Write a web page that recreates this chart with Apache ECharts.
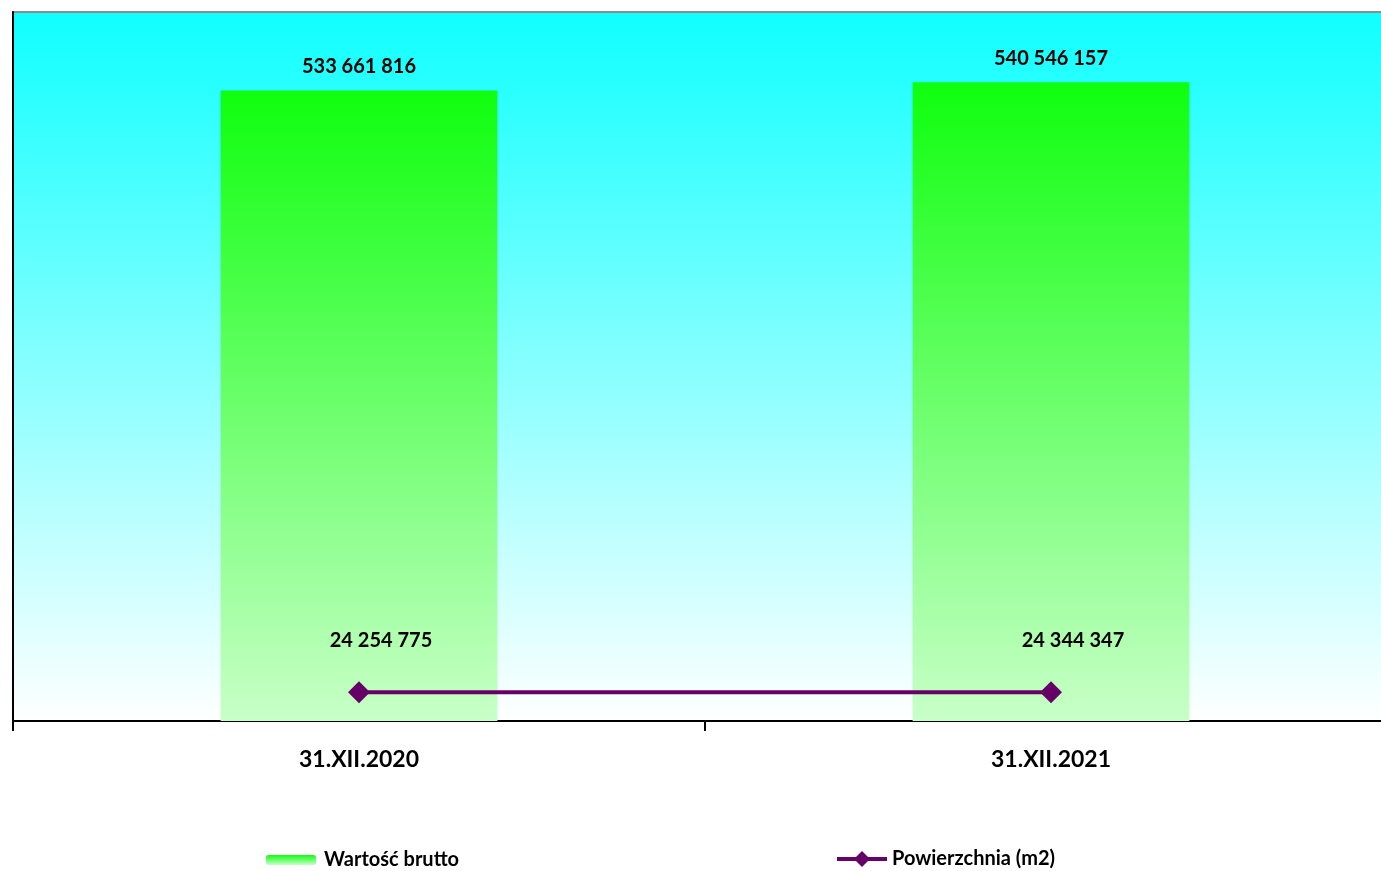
<!DOCTYPE html>
<html>
<head>
<meta charset="utf-8">
<script src="https://cdn.jsdelivr.net/npm/echarts@6/dist/echarts.min.js"></script>
<style>
html,body{margin:0;padding:0;background:#fff;overflow:hidden;width:1381px;height:871px;}
#c{width:1397px;height:871px;}
</style>
</head>
<body>
<div id="c"></div>
<script>
const categories = ['31.XII.2020', '31.XII.2021'];
const wartoscBrutto = [533661816, 540546157];
const powierzchnia = [24254775, 24344347];
const seriesNames = ['Wartość brutto', 'Powierzchnia (m2)'];

function fmt(v) {
  return String(v).replace(/\B(?=(\d{3})+(?!\d))/g, ' ');
}

const FONT = 'Lato, "Open Sans", sans-serif';
const chart = echarts.init(document.getElementById('c'), null, {renderer: 'canvas'});
const barGrad = new echarts.graphic.LinearGradient(0, 0, 0, 1, [
  {offset: 0, color: '#0fff0f'},
  {offset: 1, color: '#c8ffc8'}
]);
chart.setOption({
  animation: false,
  backgroundColor: '#ffffff',
  grid: {
    left: 13, top: 12, right: 0, bottom: 150,
    show: true,
    borderWidth: 2,
    borderColor: '#8c8c8c',
    backgroundColor: new echarts.graphic.LinearGradient(0, 0, 0, 1, [
      {offset: 0, color: '#0fffff'},
      {offset: 1, color: '#ffffff'}
    ])
  },
  legend: [
    {
      data: [seriesNames[0]], left: 266, top: 850, padding: 0,
      itemWidth: 50, itemHeight: 10, itemGap: 8,
      textStyle: {fontFamily: FONT, fontWeight: 'bold', fontSize: 20, color: '#000', padding: [0, 0, 0, 3]}
    },
    {
      data: [seriesNames[1]], left: 835, top: 849, padding: 0,
      itemWidth: 50, itemHeight: 20, itemGap: 7,
      lineStyle: {width: 4},
      textStyle: {fontFamily: FONT, fontWeight: 'bold', fontSize: 20, color: '#000'}
    }
  ],
  xAxis: {
    type: 'category',
    data: categories,
    boundaryGap: true,
    axisLine: {show: true, lineStyle: {color: '#000', width: 2}},
    axisTick: {show: true, length: 10, lineStyle: {color: '#000', width: 2}},
    axisLabel: {
      margin: 27, fontFamily: FONT, fontWeight: 'bold', fontSize: 23, color: '#000'
    },
    splitLine: {show: false}
  },
  yAxis: {
    type: 'value',
    min: 0, max: 600000000,
    axisLine: {show: true, lineStyle: {color: '#000', width: 2}},
    axisTick: {show: false},
    axisLabel: {show: false},
    splitLine: {show: false}
  },
  series: [
    {
      name: seriesNames[0],
      type: 'bar',
      data: wartoscBrutto,
      barWidth: '40%',
      itemStyle: {color: barGrad},
      label: {
        show: true, position: 'top', distance: 14,
        formatter: p => fmt(p.value),
        fontFamily: FONT, fontWeight: 'bold', fontSize: 20, color: '#000'
      },
      z: 2
    },
    {
      name: seriesNames[1],
      type: 'line',
      data: powierzchnia,
      symbol: 'diamond',
      symbolSize: 22,
      lineStyle: {color: '#660066', width: 4},
      itemStyle: {color: '#660066'},
      label: {
        show: true, position: 'top', distance: 31, offset: [22, 0],
        formatter: p => fmt(p.value),
        fontFamily: FONT, fontWeight: 'bold', fontSize: 20, color: '#000'
      },
      z: 3
    }
  ]
});
</script>
</body>
</html>
